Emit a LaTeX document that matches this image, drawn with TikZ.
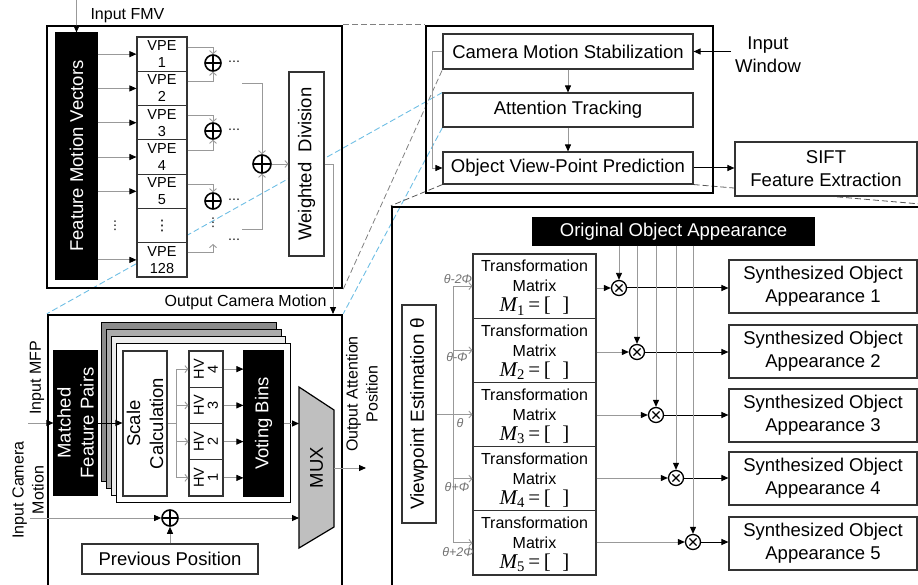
\documentclass[tikz,border=0pt]{standalone}
\usepackage{graphicx}
\usepackage{fontspec}
\setmainfont{Liberation Sans}
\newfontfamily\serifrm{Liberation Serif}
\newfontfamily\dejavu{DejaVu Sans}
\usetikzlibrary{arrows.meta,calc}
\pgfdeclarelayer{bg}
\pgfsetlayers{bg,main}
\definecolor{dashblue}{RGB}{110,190,228}
\newcommand\fsz[2]{\fontsize{#1}{#2}\selectfont}
\newcommand\vdts{{\dejavu ⋮}}
\newcommand\hdts{{\dejavu ⋯}}
% matrix row of a transformation box
\newcommand\mrow[1]{\smash{\fsz{21}{20}\serifrm\itshape M\textsubscript{\upshape #1}\upshape\,=\,[\;\;]}}
% rectangle node given by its corners: [style]{name}{x1}{y1}{x2}{y2}{text}
\newcommand\mkbox[7][]{%
  \pgfmathsetmacro\bcx{(#3+#5)/2}%
  \pgfmathsetmacro\bcy{(#4+#6)/2}%
  \pgfmathsetmacro\bw{#5-#3}%
  \pgfmathsetmacro\bh{#6-#4}%
  \node[box,minimum width=\bw pt,minimum height=\bh pt,#1] (#2) at (\bcx,\bcy) {#7};}
\begin{document}
\begin{tikzpicture}[x=1pt,y=-1pt,
  box/.style={draw=black!80,line width=1.1pt,fill=white,inner sep=0pt,align=center},
  bbox/.style={box,fill=black,draw=black,text=white},
  panel/.style={fill=none,draw=black,line width=2.4pt},
  gl/.style={draw=black!40,line width=0.9pt},
  tip/.style={-{Triangle[length=7pt,width=6pt,color=black]}},
  ga/.style={gl,tip},
  ba/.style={draw=black,line width=1pt,tip},
  go/.style={gl,-{Straight Barb[length=3pt,width=7pt]}},
  opl/.style={circle,draw=black,line width=1.6pt,fill=white,minimum size=#1,inner sep=0pt,
    path picture={\draw[line width=1.6pt] (path picture bounding box.north)--(path picture bounding box.south)
      (path picture bounding box.west)--(path picture bounding box.east);}},
  otm/.style={circle,draw=black,line width=1.3pt,fill=white,minimum size=15pt,inner sep=0pt,
    path picture={\draw[line width=1.3pt]
      ([shift={(-3.6pt,-3.6pt)}]path picture bounding box.center)--([shift={(3.6pt,3.6pt)}]path picture bounding box.center)
      ([shift={(-3.6pt,3.6pt)}]path picture bounding box.center)--([shift={(3.6pt,-3.6pt)}]path picture bounding box.center);}},
  big/.style={font=\fsz{18.5}{23}},
  lab/.style={font=\fsz{16}{20}},
  rot/.style={rotate=90,align=center},
  dots/.style={font=\fsz{12}{14},inner sep=0pt},
  thl/.style={font=\fsz{12.5}{14}\itshape,text=black!55},
  dgray/.style={draw=black!50,line width=0.8pt,dash pattern=on 6pt off 3pt},
  ddark/.style={draw=black!65,line width=0.8pt,dash pattern=on 6pt off 3pt},
  dblue/.style={draw=dashblue,line width=0.9pt,dash pattern=on 6pt off 3pt}
]
\useasboundingbox (0,0) rectangle (918,585);
\clip (0,0) rectangle (918,585);

% ---------------- camera motion stabilization (top left) ----------------
\mkbox[panel]{tlp}{47}{26}{342}{288}{}
\mkbox[bbox]{fmv}{56}{33}{97}{279}{}
\node[rot,big,text=white] at (fmv) {Feature Motion Vectors};
\coordinate (ifmv) at (76.5,0);
\draw[ga] (ifmv) -- (fmv.north);
\node[lab,anchor=west] at (87,16) {Input FMV};

\foreach \i/\tx in {1/VPE\\1,2/VPE\\2,3/VPE\\3,4/VPE\\4,5/VPE\\5,6/\vdts,7/VPE\\128}{
  \pgfmathsetmacro\ytop{37+(\i-1)*34.29}
  \pgfmathsetmacro\ybot{\ytop+34.29}
  \mkbox[font=\fsz{14.5}{17}]{vpe\i}{137}{\ytop}{187}{\ybot}{\tx}
}
\foreach \i in {1,2,3,4,5,7}{ \draw[ga] (fmv.east |- vpe\i) -- (vpe\i.west); }
\node[dots] at (115,226) {\vdts};

\node[opl=16pt] (s1) at (213,63) {};
\node[opl=16pt] (s2) at (213,131) {};
\node[opl=16pt] (s3) at (213,201) {};
\coordinate (s4) at (213,244);
\draw[go] ([yshift=7pt]vpe1.east) -| (s1.north);
\draw[go] ([yshift=7pt]vpe2.east) -| (s1.south);
\draw[go] ([yshift=7pt]vpe3.east) -| (s2.north);
\draw[go] ([yshift=7pt]vpe4.east) -| (s2.south);
\draw[go] ([yshift=7pt]vpe5.east) -| (s3.north);
\draw[go] ([yshift=7pt]vpe7.east) -| (s4);
\node[dots] at (213,223) {\vdts};
\foreach \p in {s1,s2,s3}{ \node[dots] at ([xshift=21pt]\p) {\hdts}; }
\node[dots] at (234,241) {\hdts};

\node[opl=18pt] (bs) at (262,164) {};
\coordinate (c1) at (242,83);
\coordinate (c2) at (242,229);
\draw[go] (c1) -| (bs.north);
\draw[go] (c2) -| (bs.south);
\mkbox{wd}{289}{72}{324}{256}{}
\node[rot,big] at (wd) {Weighted\ \ Division};
\draw[go] (bs.east) -- (wd.west);
\coordinate (ocm) at (333,314);
\draw[ga] (wd.east) -| (ocm);
\node[lab,anchor=east] at (330,302) {Output Camera Motion};

% ---------------- attention tracking (bottom left) ----------------
\mkbox[panel]{blp}{48}{315}{342}{610}{}
\mkbox[fill=black!45,line width=0.8pt,draw=black]{ly1}{101}{322}{276}{481}{}
\mkbox[fill=black!33,line width=0.8pt,draw=black]{ly2}{106}{329}{281}{488}{}
\mkbox[fill=black!7,line width=0.8pt,draw=black]{ly3}{111}{336}{285}{495}{}
\mkbox[line width=0.8pt,draw=black]{front}{116}{343}{290}{502}{}

\mkbox[bbox]{mfp}{54}{351}{97}{495}{}
\node[rot,big,text=white] at (mfp) {Matched\\Feature Pairs};
\coordinate (imfp) at (28,423);
\draw[ga] (imfp) -- (mfp.west);
\node[rot,lab] at (37,378) {Input MFP};

\mkbox{sc}{123}{351}{167}{496}{}
\node[rot,big] at (sc) {Scale\\Calculation};
\draw[ba] (mfp.east) -- (mfp.east -| sc.west);

\foreach \i/\n in {0/4,1/3,2/2,3/1}{
  \pgfmathsetmacro\ytop{351+\i*36.25}
  \pgfmathsetmacro\ybot{\ytop+36.25}
  \mkbox{hv\n}{189}{\ytop}{223}{\ybot}{}
  \node[rot,font=\fsz{14.5}{14}] at (hv\n) {HV\\\n};
}
\mkbox[bbox]{vb}{244}{351}{283}{496}{}
\node[rot,big,text=white] at (vb) {Voting Bins};

\coordinate (br) at (176,423.5);
\draw[gl] (sc.east |- br) -- (br);
\draw[gl] (br |- hv4) -- (br |- hv1);
\foreach \n in {1,2,3,4}{
  \draw[go] (br |- hv\n.west) -- (hv\n.west);
  \draw[ga] (hv\n.east) -- (hv\n.east -| vb.west);
}

\draw[draw=black,line width=1.2pt,fill=black!25] (299,387) -- (334,410) -- (334,527) -- (299,548) -- cycle;
\node[rot,big] (mux) at (316.5,467.5) {MUX};
\coordinate (muxa) at (299,423.5);
\coordinate (muxb) at (299,518);
\coordinate (muxo) at (334,468);
\draw[ga] (vb.east) -- (muxa);
\coordinate (oap) at (366,468);
\draw[ga] (muxo) -- (oap);
\node[rot,lab] at (362,394) {Output Attention\\Position};

\node[opl=16pt] (cs) at (170,518) {};
\coordinate (icm) at (30,518);
\draw[ga] (icm) -- (cs.west);
\draw[ga] (cs.east) -- (muxb);
\node[rot,lab] at (28,490) {Input Camera\\Motion};
\mkbox[big]{pp}{82}{544}{258}{574}{Previous Position}
\draw[ga] (pp.north) -- (cs.south);

% ---------------- system overview (top right) ----------------
\mkbox[panel]{trp}{426}{26}{713}{193}{}
\mkbox[big]{cms}{443}{34}{693}{69}{Camera Motion Stabilization}
\mkbox[big]{at}{443}{93}{693}{127}{Attention Tracking}
\mkbox[big]{ovp}{443}{152}{693}{184}{Object View-Point Prediction}
\draw[ga] (cms) -- (at);
\draw[ga] (at) -- (ovp);
\draw[ga] (cms.west) -- ++(-10pt,0) |- (ovp.west);
\coordinate (iw) at (731,51.5);
\draw[ba] (iw) -- (cms.east);
\node[big,align=center] at (768,55) {Input\\Window};
\mkbox[big]{sift}{735}{142}{917}{196}{SIFT\\Feature Extraction}
\draw[ba] (ovp.east) -- (ovp.east -| sift.west);

% ---------------- object view-point prediction (bottom right) ----------------
\mkbox[panel]{brp}{392}{207}{940}{610}{}
\mkbox[bbox,big]{ooa}{533}{218}{814}{245}{Original Object Appearance}
\mkbox{ve}{402}{305}{436}{523}{}
\node[rot,font=\fsz{19}{22}] at (ve) {Viewpoint Estimation θ};
\coordinate (vbr) at (453,414);
\draw[gl] (ve.east) -- (vbr);

\foreach \i in {1,...,5}{
  \pgfmathsetmacro\ytop{254+(\i-1)*64.2}
  \pgfmathsetmacro\ybot{\ytop+64.2}
  \mkbox[font=\fsz{16}{20}]{tm\i}{473}{\ytop}{596}{\ybot}{Transformation\\Matrix\\\mrow{\i}}
}
\draw[gl] (vbr |- tm1) -- (vbr |- tm5);
\foreach \i in {1,...,5}{ \draw[go] (vbr |- tm\i.west) -- (tm\i.west); }
\node[thl] at (458,279) {θ-2Φ};
\node[thl] at (457,357) {θ-Φ};
\node[thl] at (460,423) {θ};
\node[thl] at (457,487) {θ+Φ};
\node[thl] at (458,552) {θ+2Φ};

\node[otm] (x1) at (619,288) {};
\node[otm] (x2) at (637,352) {};
\node[otm] (x3) at (656,415) {};
\node[otm] (x4) at (676,478) {};
\node[otm] (x5) at (693,542) {};

\foreach \i/\yt in {1/260,2/325,3/389,4/452,5/517}{
  \pgfmathsetmacro\ybot{\yt+53}
  \mkbox[big]{soa\i}{729}{\yt}{917}{\ybot}{Synthesized Object\\Appearance \i}
}
\foreach \i in {1,...,5}{
  \draw[ga] (tm\i.east |- x\i) -- (x\i.west);
  \draw[ga] (ooa.south -| x\i) -- (x\i.north);
  \draw[ba] (x\i.east) -- (x\i.east -| soa\i.west);
}

% ---------------- zoom guides ----------------
\begin{pgfonlayer}{bg}
\draw[dgray] (tlp.north east) -- (trp.north west);
\draw[dgray] (tlp.south east) -- (cms.south west);
\draw[dblue] (at.north west) -- (blp.north west);
\draw[dblue] (at.south west) -- (blp.north east);
\draw[ddark] (ovp.south west) -- (brp.north west);
\draw[ddark] (ovp.south east) -- (brp.north east);
\end{pgfonlayer}
\end{tikzpicture}
\end{document}
